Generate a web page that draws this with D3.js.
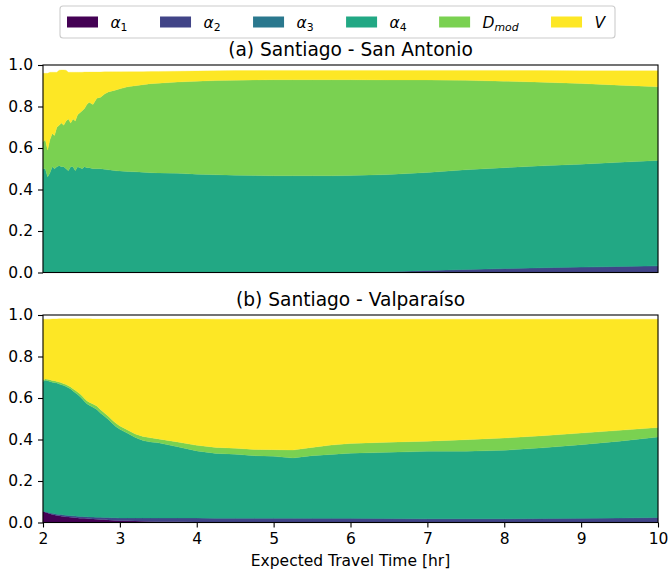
<!DOCTYPE html>
<html><head><meta charset="utf-8">
<script src="https://cdn.jsdelivr.net/npm/d3@7"></script>
<style>
body{margin:0;background:#fff;}
svg{display:block;font-family:"DejaVu Sans",sans-serif;}
</style></head>
<body>
<svg id="chart" width="668" height="571"></svg>
<script>
// ---------- data ----------
const times = [2.00,2.03,2.06,2.09,2.12,2.15,2.18,2.21,2.24,2.27,2.30,2.33,2.36,2.39,2.42,2.45,2.48,2.51,2.54,2.57,2.60,
  2.65,2.70,2.75,2.80,2.85,2.90,2.95,3.00,
  3.1,3.2,3.3,3.4,3.5,
  3.75,4.0,4.25,4.5,4.75,5.0,5.25,5.5,5.75,6.0,
  6.5,7.0,7.5,8.0,8.5,9.0,9.5,10.0];

const seriesKeys = ["alpha1","alpha2","alpha3","alpha4","Dmod","V"];
const seriesColors = ["#440154","#414487","#2a788e","#22a884","#7ad151","#fde725"];

// (a) Santiago - San Antonio
const a_alpha1 = times.map(()=>0);
const a_alpha2 = [0,0,0,0,0,0,0,0,0,0,0,0,0,0,0,0,0,0,0,0,0,
  0,0,0,0,0,0,0,0,
  0,0,0,0,0,
  0,0,0,0,0,0,0,0,0,0.001,
  0.004,0.010,0.015,0.019,0.023,0.026,0.029,0.032];
const a_alpha3 = times.map(()=>0);
const a_alpha4 = [0.50,0.50,0.46,0.48,0.51,0.50,0.51,0.515,0.51,0.51,0.50,0.49,0.51,0.51,0.49,0.51,0.505,0.50,0.51,0.505,0.505,
  0.50,0.50,0.50,0.497,0.495,0.493,0.49,0.489,
  0.487,0.485,0.483,0.481,0.48,
  0.478,0.474,0.471,0.469,0.467,0.466,0.466,0.466,0.466,0.466,
  0.468,0.472,0.480,0.486,0.491,0.496,0.502,0.508];
const a_Dmod = [0.13,0.14,0.13,0.16,0.16,0.16,0.19,0.195,0.21,0.20,0.23,0.25,0.21,0.23,0.24,0.25,0.265,0.28,0.28,0.305,0.315,
  0.31,0.34,0.345,0.363,0.375,0.382,0.39,0.396,
  0.408,0.415,0.422,0.429,0.432,
  0.44,0.448,0.454,0.458,0.461,0.463,0.463,0.463,0.463,0.462,
  0.456,0.446,0.431,0.417,0.403,0.389,0.372,0.355];
const a_V = [0.33,0.32,0.37,0.325,0.295,0.305,0.265,0.265,0.256,0.266,0.245,0.225,0.245,0.225,0.235,0.205,0.195,0.185,0.176,0.156,0.146,
  0.156,0.126,0.121,0.107,0.097,0.092,0.087,0.082,
  0.073,0.068,0.063,0.059,0.057,
  0.052,0.049,0.047,0.046,0.045,0.045,0.045,0.045,0.045,0.045,
  0.046,0.046,0.048,0.052,0.056,0.061,0.069,0.077];

// (b) Santiago - Valparaíso
const b_alpha1 = [0.054,0.050,0.046,0.042,0.039,0.036,0.034,0.032,0.030,0.029,0.027,0.026,0.025,0.024,0.023,0.022,0.021,0.020,0.020,0.019,0.018,
  0.017,0.016,0.015,0.014,0.012,0.011,0.010,0.009,
  0.008,0.007,0.006,0.005,0.004,
  0.004,0.003,0.003,0.002,0.002,0.002,0.002,0.002,0.002,0.002,
  0.002,0.002,0.002,0.002,0.002,0.002,0.002,0.002];
const b_alpha2 = [0,0.002,0.003,0.004,0.005,0.006,0.006,0.007,0.008,0.007,0.008,0.008,0.008,0.008,0.008,0.008,0.008,0.009,0.008,0.009,0.009,
  0.009,0.009,0.010,0.010,0.012,0.012,0.013,0.013,
  0.014,0.015,0.016,0.017,0.018,
  0.018,0.019,0.018,0.019,0.019,0.019,0.019,0.018,0.018,0.018,
  0.017,0.016,0.016,0.016,0.017,0.018,0.020,0.022];
const b_alpha3 = times.map(()=>0);
const b_alpha4 = [0.626,0.633,0.634,0.634,0.632,0.632,0.632,0.629,0.626,0.624,0.620,0.615,0.610,0.602,0.594,0.587,0.578,0.567,0.555,0.544,0.538,
  0.530,0.520,0.502,0.488,0.472,0.455,0.439,0.427,
  0.408,0.388,0.373,0.366,0.362,
  0.343,0.323,0.312,0.308,0.301,0.298,0.290,0.302,0.308,0.314,
  0.319,0.325,0.325,0.330,0.341,0.355,0.370,0.388];
const b_Dmod = [0.007,0.007,0.007,0.008,0.008,0.009,0.008,0.009,0.009,0.009,0.010,0.010,0.010,0.010,0.012,0.012,0.013,0.014,0.014,0.015,0.015,
  0.015,0.016,0.016,0.016,0.016,0.016,0.016,0.016,
  0.016,0.017,0.020,0.020,0.019,
  0.023,0.027,0.029,0.029,0.030,0.032,0.038,0.040,0.045,0.047,
  0.049,0.049,0.056,0.059,0.058,0.056,0.052,0.046];
const b_V = [0.293,0.288,0.290,0.292,0.297,0.298,0.301,0.305,0.309,0.313,0.317,0.323,0.329,0.338,0.345,0.353,0.362,0.372,0.385,0.395,0.402,
  0.410,0.420,0.438,0.453,0.469,0.487,0.503,0.516,
  0.535,0.554,0.566,0.573,0.578,
  0.593,0.609,0.618,0.622,0.628,0.629,0.631,0.618,0.607,0.599,
  0.593,0.588,0.581,0.573,0.562,0.549,0.536,0.522];

const xTicks = [2,3,4,5,6,7,8,9,10];
const yTicks = [0,0.2,0.4,0.6,0.8,1.0];
const titles = ["(a) Santiago - San Antonio","(b) Santiago - Valparaíso"];
const xLabel = "Expected Travel Time [hr]";
const legendLabels = [["α","1"],["α","2"],["α","3"],["α","4"],["D","mod"],["V",""]];

// ---------- layout ----------
const svg = d3.select("#chart");
const FS = 15.5;
const left = 43, right = 658;
const panels = [
  {top:65, bottom:272.5, series:[a_alpha1,a_alpha2,a_alpha3,a_alpha4,a_Dmod,a_V], title:titles[0], xlabels:false},
  {top:315, bottom:522.5, series:[b_alpha1,b_alpha2,b_alpha3,b_alpha4,b_Dmod,b_V], title:titles[1], xlabels:true}
];
const x = d3.scaleLinear().domain([2,10]).range([left,right]);

panels.forEach(p=>{
  const y = d3.scaleLinear().domain([0,1]).range([p.bottom,p.top]);
  const rows = times.map((t,i)=>{
    const r = {t};
    seriesKeys.forEach((k,j)=>{ r[k] = p.series[j][i]; });
    return r;
  });
  const stacked = d3.stack().keys(seriesKeys)(rows);
  const area = d3.area().x(d=>x(d.data.t)).y0(d=>y(d[0])).y1(d=>y(d[1]));
  const g = svg.append("g");
  g.selectAll("path.layer").data(stacked).join("path")
    .attr("class","layer")
    .attr("d",area)
    .attr("fill",(d,i)=>seriesColors[i])
    .attr("stroke",(d,i)=>seriesColors[i])
    .attr("stroke-width",0.3);

  // y axis
  const ya = svg.append("g").attr("transform",`translate(${left},0)`)
    .call(d3.axisLeft(y).tickValues(yTicks).tickFormat(d3.format(".1f")).tickSize(5).tickPadding(5));
  ya.select(".domain").remove();
  ya.selectAll("line").attr("stroke","#000").attr("stroke-width",1.1);
  ya.selectAll("text").attr("font-size",FS).attr("font-family","DejaVu Sans").attr("fill","#000");

  if(p.xlabels){
    const xa = svg.append("g").attr("transform",`translate(0,${p.bottom})`)
      .call(d3.axisBottom(x).tickValues(xTicks).tickFormat(d3.format("d")).tickSize(5).tickPadding(5));
    xa.select(".domain").remove();
    xa.selectAll("line").attr("stroke","#000").attr("stroke-width",1.1);
    xa.selectAll("text").attr("font-size",FS).attr("font-family","DejaVu Sans").attr("fill","#000");
  }
  // frame
  svg.append("rect").attr("x",left).attr("y",p.top).attr("width",right-left).attr("height",p.bottom-p.top)
    .attr("fill","none").attr("stroke","#000").attr("stroke-width",1.1);
  // title
  svg.append("text").attr("x",(left+right)/2).attr("y",p.top-9)
    .attr("text-anchor","middle").attr("font-size",18.6).attr("fill","#000").text(p.title);
});

svg.append("text").attr("x",(left+right)/2).attr("y",566)
  .attr("text-anchor","middle").attr("font-size",FS).attr("fill","#000").text(xLabel);

// ---------- legend ----------
const lg = svg.append("g");
const box = lg.append("rect");
const handleW = 31, handleH = 11, gap = 12.4, colSp = 32.5, pad = 7;
let cx = 0;
const items = [];
legendLabels.forEach((lab,i)=>{
  const it = lg.append("g");
  it.append("rect").attr("x",0).attr("y",-handleH/2).attr("width",handleW).attr("height",handleH).attr("fill",seriesColors[i]);
  const t = it.append("text").attr("x",handleW+gap).attr("y",5.5).attr("font-size",FS).attr("fill","#000");
  t.append("tspan").attr("font-style","italic").text(lab[0]);
  if(lab[1]) t.append("tspan").attr("font-size",FS*0.7).attr("font-style",lab[1]==="mod"?"italic":"normal").attr("dy",3.5).text(lab[1]);
  const w = handleW+gap+t.node().getComputedTextLength();
  items.push({it,w});
});
const totalW = items.reduce((s,d)=>s+d.w,0)+colSp*(items.length-1)+2*pad;
const lx0 = 60;
const lyC = 22;
cx = lx0 + pad;
items.forEach(d=>{ d.it.attr("transform",`translate(${cx},${lyC})`); cx += d.w + colSp; });
box.attr("x",lx0).attr("y",6).attr("width",Math.max(totalW,555)).attr("height",32).attr("rx",3)
  .attr("fill","#fff").attr("fill-opacity",0.8).attr("stroke","#ccc").attr("stroke-width",1.1);
</script>
</body></html>
